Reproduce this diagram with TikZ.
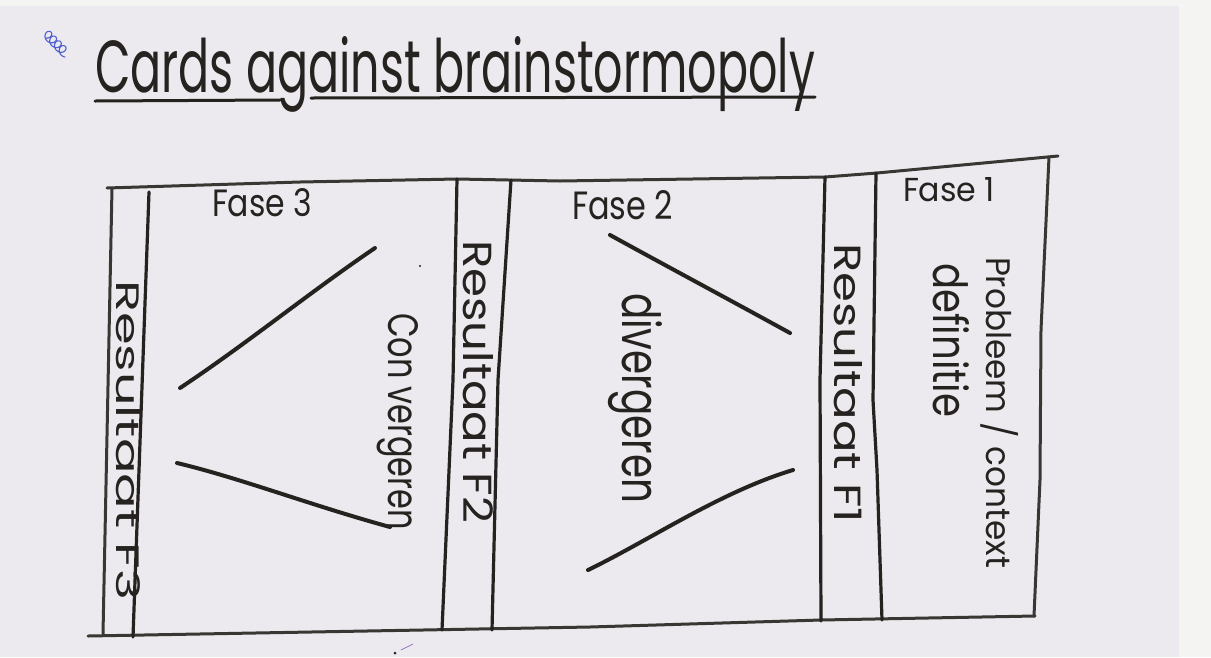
\documentclass[tikz,border=0pt]{standalone}
\usepackage{graphicx}
\usepackage{fontspec}
\setmainfont{Poppins}
\definecolor{paper}{RGB}{236,234,238}
\definecolor{paperedge}{RGB}{244,244,242}
\definecolor{ink}{RGB}{38,34,32}
\definecolor{boxink}{RGB}{58,54,52}
\definecolor{blueink}{RGB}{80,95,210}
\definecolor{specks}{RGB}{150,120,190}
\newcommand{\hw}[3]{\resizebox{#1pt}{#2pt}{#3}}
\begin{document}
\begin{tikzpicture}[x=1pt,y=-1pt,
  frame/.style={draw=boxink, line width=3pt, line cap=round, line join=round},
  strip/.style={draw=ink, line width=3.2pt, line cap=round, line join=round},
  stroke/.style={draw=ink, line width=4pt, line cap=round},
  lbl/.style={inner sep=0pt, outer sep=0pt, text=ink, anchor=base west},
  vlbl/.style={lbl, rotate=-90}]
% paper
\useasboundingbox (0,0) rectangle (1211,657);
\fill[paper] (0,0) rectangle (1211,657);
\fill[paperedge] (1179,0) rectangle (1211,657);
\fill[paperedge] (0,0) rectangle (1211,6);

% small blue scribble (loops running diagonally down-right)
\draw[blueink, line width=1.1pt, line cap=round]
  plot[domain=0:1440, samples=160, smooth]
  ({46 + \x/1440*19 + 4.5*sin(\x)}, {38 + \x/1440*19 + 4.5*cos(\x) - 4.5});

% title
\node[lbl] (title) at (95,92) {\hw{720}{56}{Cards against brainstormopoly}};
\coordinate (u1a) at (95,101);
\coordinate (u1b) at (280,100);
\coordinate (u2a) at (311,98);
\coordinate (u2b) at (815,97);
\draw[stroke, line width=3pt] (u1a) -- (u1b);
\draw[stroke, line width=3pt] (u2a) -- (u2b);

% outer frame
\coordinate (tl) at (107,188);
\coordinate (tr) at (1058,156);
\coordinate (bl) at (88,636);
\coordinate (br) at (1035,616);
\draw[frame] (tl) -- (300,182) -- (457,179) -- (560,181) -- (825,177) -- (877,173) -- (tr);
\draw[frame] (bl) -- (590,627) -- (821,620) -- (br);
\draw[frame] (112,188) -- (103,634);
\draw[frame] (1049,157) -- (1041,330) -- (1040,480) -- (1034,616);

% strip lines
\draw[strip] (149,192) -- (133,637);
\draw[strip] (457,179) -- (453,380) -- (442,630);
\draw[strip] (511,180) -- (498,380) -- (492,630);
\draw[strip] (825,177) -- (820,380) -- (821,621);
\draw[strip] (876,173) -- (873,400) -- (877,470) -- (882,620);

% phase headings
\node[lbl] (f3) at (212,216) {\hw{100}{28}{Fase 3}};
\node[lbl] (f2) at (572,219) {\hw{101}{29}{Fase 2}};
\node[lbl] (f1) at (903,201) {\hw{92}{24}{Fase 1}};

% vertical texts
\node[vlbl] (r3) at (116,280) {\hw{320}{24}{Resultaat F3}};
\node[vlbl] (r2) at (463,240) {\hw{283}{30}{Resultaat F2}};
\node[vlbl] (r1) at (834,243) {\hw{280}{28}{Resultaat F1}};
\node[vlbl] (conv) at (388,313) {\hw{217}{30}{Con\hspace{0.25em}vergeren}};
\node[vlbl] (div) at (622,293) {\hw{210}{40}{divergeren}};
\node[vlbl] (prob) at (986,257) {\hw{311}{32}{Probleem / context}};
\node[vlbl] (def) at (933,263) {\hw{154}{36}{definitie}};

% funnel lines
\coordinate (a1) at (180,388); \coordinate (a2) at (375,248);
\coordinate (b1) at (177,463); \coordinate (b2) at (390,527);
\coordinate (c1) at (610,235); \coordinate (c2) at (790,333);
\coordinate (d1) at (588,570); \coordinate (d2) at (793,470);
\draw[stroke] (a1) .. controls (245,345) and (310,292) .. (a2);
\draw[stroke] (b1) .. controls (240,478) and (310,505) .. (b2);
\draw[stroke] (c1) .. controls (670,268) and (730,300) .. (c2);
\draw[stroke] (d1) .. controls (650,540) and (720,492) .. (d2);

% specks
\fill[ink] (420,266) circle (1.2pt);
\fill[ink] (395,653) circle (1.5pt);
\coordinate (s1) at (401,650); \coordinate (s2) at (413,644);
\draw[specks, line width=0.8pt] (s1) -- (s2);
\end{tikzpicture}
\end{document}
